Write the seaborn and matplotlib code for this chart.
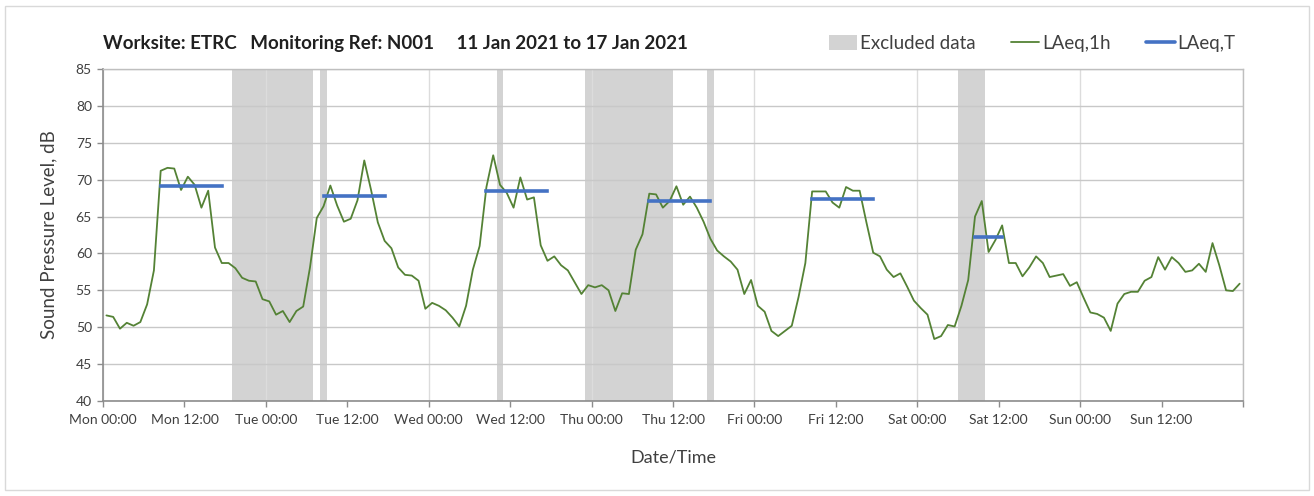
# Noise monitoring chart: hourly LAeq with excluded periods and daytime LAeq,T

import numpy as np
import pandas as pd
import matplotlib.pyplot as plt
import seaborn as sns
from matplotlib.patches import Patch, Rectangle
from matplotlib.lines import Line2D

sns.set_theme(style="white")
plt.rcParams["font.family"] = ["Lato", "DejaVu Sans"]

# Data
days = ["Mon", "Tue", "Wed", "Thu", "Fri", "Sat", "Sun"]

laeq_1h = [
    # Mon
    51.6, 51.4, 49.8, 50.6, 50.2, 50.7, 53.1, 57.7, 71.2, 71.6, 71.5, 68.6,
    70.4, 69.3, 66.2, 68.5, 60.8, 58.7, 58.7, 58.0, 56.7, 56.3, 56.2, 53.8,
    # Tue
    53.5, 51.7, 52.2, 50.7, 52.2, 52.8, 58.1, 64.8, 66.4, 69.2, 66.5, 64.3,
    64.7, 67.2, 72.6, 68.6, 64.2, 61.7, 60.7, 58.1, 57.1, 57.0, 56.3, 52.5,
    # Wed
    53.3, 52.9, 52.3, 51.3, 50.1, 52.9, 57.8, 61.0, 69.0, 73.3, 69.3, 68.2,
    66.2, 70.3, 67.3, 67.6, 61.1, 59.0, 59.6, 58.4, 57.7, 56.1, 54.5, 55.7,
    # Thu
    55.4, 55.7, 55.0, 52.2, 54.6, 54.5, 60.5, 62.6, 68.1, 68.0, 66.2, 67.1,
    69.1, 66.6, 67.7, 66.2, 64.3, 62.0, 60.4, 59.6, 58.9, 57.8, 54.5, 56.4,
    # Fri
    52.9, 52.1, 49.5, 48.8, 49.5, 50.2, 54.1, 58.7, 68.4, 68.4, 68.4, 66.9,
    66.2, 69.0, 68.5, 68.5, 64.2, 60.1, 59.6, 57.8, 56.8, 57.3, 55.5, 53.6,
    # Sat
    52.6, 51.7, 48.4, 48.8, 50.3, 50.1, 52.9, 56.4, 65.0, 67.1, 60.2, 61.8,
    63.8, 58.7, 58.7, 56.9, 58.1, 59.6, 58.7, 56.8, 57.0, 57.2, 55.6, 56.1,
    # Sun
    54.0, 52.0, 51.8, 51.3, 49.5, 53.2, 54.5, 54.8, 54.8, 56.3, 56.8, 59.5,
    57.8, 59.5, 58.7, 57.5, 57.7, 58.6, 57.5, 61.4, 58.4, 55.0, 54.9, 55.9,
]

# excluded periods: first hour of week and number of hours
excluded_start = [19, 32, 58, 71, 89, 126]
excluded_hours = [12, 1, 1, 13, 1, 4]

# daytime LAeq,T per day (from 08:00), and number of hours it covers
laeq_t_day = ["Mon", "Tue", "Wed", "Thu", "Fri", "Sat"]
laeq_t_value = [69.2, 67.8, 68.5, 67.1, 67.4, 62.2]
laeq_t_hours = [10, 10, 10, 10, 10, 5]

green = "#548235"
blue = "#4472C4"
grey_band = "#D3D3D3"

# Build tables
df = pd.DataFrame({"hour": np.arange(len(laeq_1h)) + 0.5, "level": laeq_1h})

rows = []
for d, v, n in zip(laeq_t_day, laeq_t_value, laeq_t_hours):
    start = days.index(d) * 24 + 8
    for h in range(n):
        rows.append({"day": d, "hour": start + h + 0.5, "level": v})
df_t = pd.DataFrame(rows)

fig, ax = plt.subplots(figsize=(13.14, 4.96), dpi=100)
fig.subplots_adjust(left=0.0784, right=0.946, top=0.861, bottom=0.1915)

# excluded data bands
for s, n in zip(excluded_start, excluded_hours):
    ax.axvspan(s, s + n, color=grey_band, lw=0, zorder=0)

sns.lineplot(data=df, x="hour", y="level", color=green, linewidth=1.3,
             ax=ax, zorder=3)
sns.lineplot(data=df_t, x="hour", y="level", units="day", estimator=None,
             color=blue, linewidth=2.6, ax=ax, zorder=4,
             solid_capstyle="projecting")

# axes
ax.set_xlim(0, 168)
ax.set_ylim(40, 85)
ax.set_yticks(np.arange(40, 86, 5))

major = np.arange(0, 169, 24)
minor = np.arange(12, 168, 24)
ax.set_xticks(major, [f"{d} 00:00" for d in days] + [""])
ax.set_xticks(minor, [f"{d} 12:00" for d in days], minor=True)

ax.grid(axis="y", color="#C8C8C8", linewidth=1.0)
ax.grid(axis="x", which="major", color="#DCDCDC", linewidth=1.0)
ax.set_axisbelow(True)

ax.tick_params(axis="x", which="both", length=4, width=1, color="#8C8C8C",
               labelsize=10, pad=5, direction="out", bottom=True)
ax.tick_params(axis="y", length=4, width=1, color="#8C8C8C", labelsize=10,
               pad=4, direction="out", left=True)
for lab in ax.get_xticklabels(which="both") + ax.get_yticklabels():
    lab.set_color("#404040")

for side in ["left", "bottom"]:
    ax.spines[side].set_color("#8C8C8C")
    ax.spines[side].set_linewidth(1.2)
for side in ["top", "right"]:
    ax.spines[side].set_color("#BFBFBF")
    ax.spines[side].set_linewidth(1.0)

ax.set_xlabel("Date/Time", fontsize=13, color="#404040", labelpad=17)
ax.set_ylabel("Sound Pressure Level, dB", fontsize=13.5, color="#404040",
              labelpad=13)

# title and legend
fig.text(0.0784, 0.912,
         "Worksite: ETRC   Monitoring Ref: N001     11 Jan 2021 to 17 Jan 2021",
         fontsize=13.5, fontweight="bold", color="#202020", va="center")

handles = [
    Patch(facecolor=grey_band, edgecolor="none"),
    Line2D([0], [0], color=green, linewidth=1.3),
    Line2D([0], [0], color=blue, linewidth=2.6),
]
fig.legend(handles, ["Excluded data", "LAeq,1h", "LAeq,T"],
           loc="center right", bbox_to_anchor=(0.953, 0.912), ncol=3,
           frameon=False, fontsize=13.5, handlelength=1.5, handleheight=0.8,
           handletextpad=0.15, columnspacing=1.9, labelcolor="#404040")

# outer chart border
fig.patches.append(Rectangle((0.004, 0.012), 0.992, 0.976,
                             transform=fig.transFigure, fill=False,
                             edgecolor="#D9D9D9", linewidth=1.0))

fig.savefig("out.png", dpi=100)
